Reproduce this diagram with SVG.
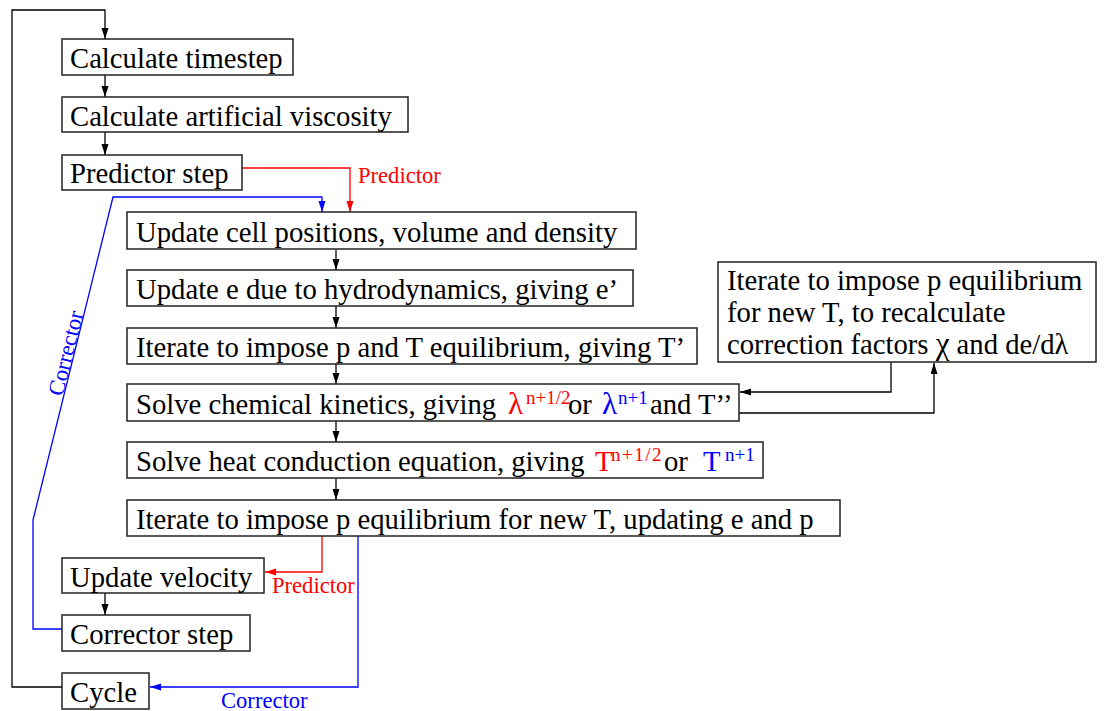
<svg xmlns="http://www.w3.org/2000/svg" width="1106" height="711" viewBox="0 0 1106 711">
<style>
.box{fill:#fff;stroke:#222;stroke-width:1.5}
.t{font-family:"Liberation Serif","Times New Roman",serif;font-size:28.7px;fill:#000}
.sup{font-size:19px}
.gr{font-size:31px}
.lbl{font-family:"Liberation Serif","Times New Roman",serif;font-size:22.6px}
.k{fill:none;stroke:#000;stroke-width:1.3}
.r{fill:none;stroke:#f00;stroke-width:1.3}
.b{fill:none;stroke:#00f;stroke-width:1.3}
</style>
<defs>
<marker id="ak" markerUnits="userSpaceOnUse" markerWidth="12" markerHeight="8" refX="11" refY="3.5" orient="auto"><path d="M0,0 L11,3.5 L0,7 z" fill="#000"/></marker>
<marker id="ar" markerUnits="userSpaceOnUse" markerWidth="12" markerHeight="8" refX="11" refY="3.5" orient="auto"><path d="M0,0 L11,3.5 L0,7 z" fill="#f00"/></marker>
<marker id="ab" markerUnits="userSpaceOnUse" markerWidth="12" markerHeight="8" refX="11" refY="3.5" orient="auto"><path d="M0,0 L11,3.5 L0,7 z" fill="#00f"/></marker>
</defs>
<rect width="1106" height="711" fill="#fff"/>
<g id="connectors">
<path class="k" d="M62,687 H12 V10 H105 V39" marker-end="url(#ak)"/>
<path class="k" d="M105,75 V97" marker-end="url(#ak)"/>
<path class="k" d="M105,132 V155" marker-end="url(#ak)"/>
<path class="r" d="M242,168 H350 V212" marker-end="url(#ar)"/>
<path class="b" d="M62,629 H33 V520 L113,197 H322 V212" marker-end="url(#ab)"/>
<path class="k" d="M336,250 V270" marker-end="url(#ak)"/>
<path class="k" d="M336,306 V328" marker-end="url(#ak)"/>
<path class="k" d="M336,364 V384" marker-end="url(#ak)"/>
<path class="k" d="M336,421 V442" marker-end="url(#ak)"/>
<path class="k" d="M336,478 V500" marker-end="url(#ak)"/>
<path class="k" d="M891,362 V392 H740" marker-end="url(#ak)"/>
<path class="k" d="M739,413 H934 V363" marker-end="url(#ak)"/>
<path class="r" d="M322,536 V572 H265" marker-end="url(#ar)"/>
<path class="b" d="M358,536 V687 H150" marker-end="url(#ab)"/>
<path class="k" d="M105,593 V615" marker-end="url(#ak)"/>
<text class="lbl" x="358" y="183" fill="#f00">Predictor</text>
<text class="lbl" x="272" y="593" fill="#f00">Predictor</text>
<text class="lbl" x="221" y="708" fill="#00f">Corrector</text>
<text class="lbl" transform="translate(73,355) rotate(-76)" text-anchor="middle" fill="#00f">Corrector</text>
</g>
<g id="n1"><rect class="box" x="62" y="39" width="231" height="36"/><text class="t" x="70" y="68">Calculate timestep</text></g>
<g id="n2"><rect class="box" x="62" y="97" width="346" height="35"/><text class="t" x="70" y="126">Calculate artificial viscosity</text></g>
<g id="n3"><rect class="box" x="62" y="155" width="180" height="35"/><text class="t" x="70" y="183">Predictor step</text></g>
<g id="n4"><rect class="box" x="127" y="212" width="509" height="37"/><text class="t" x="136" y="242">Update cell positions, volume and density</text></g>
<g id="n5"><rect class="box" x="127" y="270" width="506" height="36"/><text class="t" x="136" y="299">Update e due to hydrodynamics, giving e’</text></g>
<g id="n6"><rect class="box" x="127" y="328" width="570" height="36"/><text class="t" x="136" y="357">Iterate to impose p and T equilibrium, giving T’</text></g>
<g id="n7"><rect class="box" x="127" y="384" width="612" height="37"/><text class="t" x="136" y="414">Solve chemical kinetics, giving <tspan class="gr" x="508" fill="#f00">λ</tspan><tspan class="sup" x="526" dy="-10" fill="#f00">n+1/2</tspan><tspan x="568" dy="10">or </tspan><tspan class="gr" x="602" fill="#00f">λ</tspan><tspan class="sup" x="618" dy="-10" fill="#00f">n+1</tspan><tspan x="650" dy="10">and T’’</tspan></text></g>
<g id="n8"><rect class="box" x="127" y="442" width="636" height="36"/><text class="t" x="136" y="471">Solve heat conduction equation, giving <tspan x="595" fill="#f00">T</tspan><tspan class="sup" x="611" dy="-10" fill="#f00" letter-spacing="1.5">n+1/2</tspan><tspan x="664" dy="10">or </tspan><tspan x="703" fill="#00f">T</tspan><tspan class="sup" x="725" dy="-10" fill="#00f">n+1</tspan></text></g>
<g id="n9"><rect class="box" x="127" y="500" width="713" height="36"/><text class="t" x="136" y="529">Iterate to impose p equilibrium for new T, updating e and p</text></g>
<g id="n10"><rect class="box" x="718" y="262" width="378" height="100"/><text class="t" x="727" y="290">Iterate to impose p equilibrium</text><text class="t" x="727" y="322">for new T, to recalculate</text><text class="t" x="727" y="354">correction factors <tspan class="gr">χ</tspan> and de/dλ</text></g>
<g id="n11"><rect class="box" x="62" y="558" width="202" height="35"/><text class="t" x="70" y="587">Update velocity</text></g>
<g id="n12"><rect class="box" x="62" y="615" width="188" height="36"/><text class="t" x="70" y="644">Corrector step</text></g>
<g id="n13"><rect class="box" x="62" y="673" width="87" height="36"/><text class="t" x="70" y="702">Cycle</text></g>
</svg>
